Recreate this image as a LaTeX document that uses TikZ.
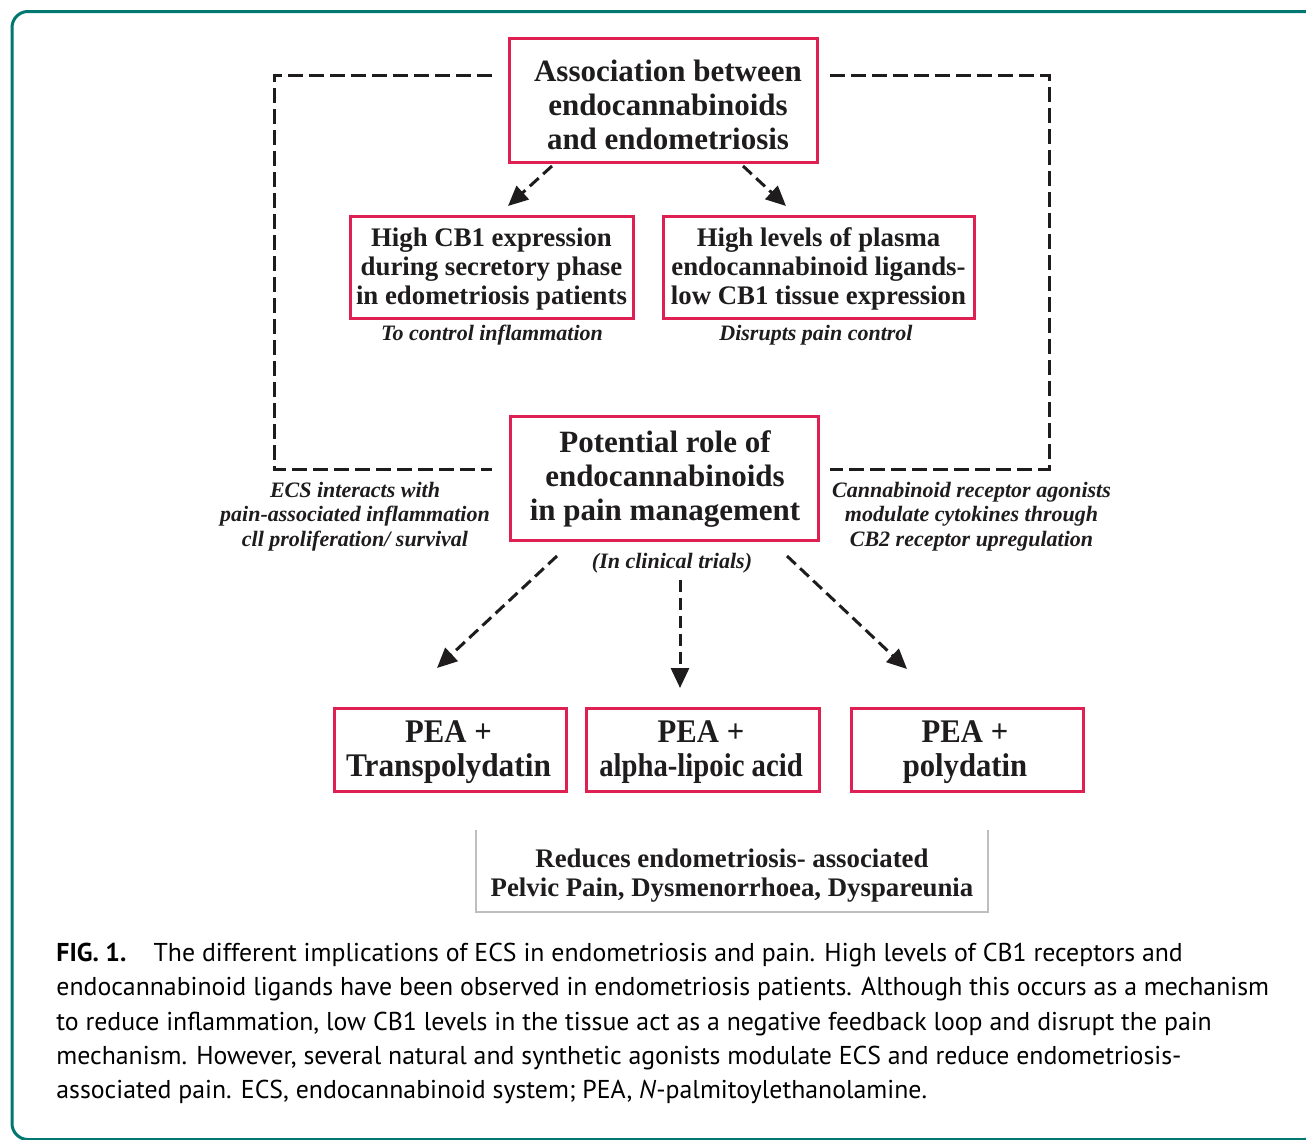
\documentclass[tikz,border=0pt]{standalone}
\usepackage{fontspec}
\usepackage{graphicx}
\setmainfont{Liberation Serif}
\newfontfamily\capfont{PT Sans}
\usetikzlibrary{arrows.meta}
\definecolor{boxred}{RGB}{222,32,82}
\definecolor{frameteal}{RGB}{0,119,112}
\definecolor{inkblack}{RGB}{30,28,29}
\definecolor{lightgray}{RGB}{190,190,190}
\tikzset{
  redbox/.style={draw=boxred, line width=1.5pt, inner sep=0pt},
  boxtext/.style={align=center, inner sep=0pt, text=inkblack},
  bigtxt/.style={font=\bfseries\fontsize{15.5pt}{17pt}\selectfont},
  pea/.style={font=\bfseries\fontsize{16.5pt}{17pt}\selectfont},
  midtxt/.style={font=\bfseries\fontsize{13.4pt}{14.5pt}\selectfont},
  itlabel/.style={font=\bfseries\itshape\fontsize{11pt}{12.3pt}\selectfont, align=center, text=inkblack, inner sep=0pt},
  bracket/.style={line width=1.5pt, dash pattern=on 7.5pt off 3pt, inkblack},
  dasharrow/.style={line width=1.5pt, dash pattern=on 6pt off 3pt, inkblack, -{Triangle[length=10pt,width=9pt]}},
  captxt/.style={font=\capfont\fontsize{12.9pt}{17pt}\selectfont, anchor=base west, inner sep=0pt, text=black},
}
\newcommand{\cond}[2]{\scalebox{#1}[1]{#2}}
\begin{document}
\begin{tikzpicture}[x=0.5pt,y=-0.5pt]
\useasboundingbox (0,0) rectangle (1306,1140);
% frame
\draw[frameteal, line width=1.5pt, rounded corners=8pt] (12,11.5) rectangle (1320,1139.5);

% boxes
\node[redbox, minimum width=154pt, minimum height=62pt] (top) at (663,100) {};
\node[boxtext, bigtxt] (toptext) at (668,105)
  {Association between\\endocannabinoids\\and endometriosis};
\node[redbox, minimum width=141.5pt, minimum height=51pt] (cbone) at (491.5,267) {};
\node[boxtext, midtxt] (cbonetext) at (491.5,269)
  {High CB1 expression\\during secretory phase\\in edometriosis patients};
\node[redbox, minimum width=155.5pt, minimum height=51pt] (plasma) at (818.5,267) {};
\node[boxtext, midtxt] (plasmatext) at (818.5,269)
  {High levels of plasma\\endocannabinoid ligands-\\low CB1 tissue expression};
\node[redbox, minimum width=154pt, minimum height=62pt] (pain) at (664,478) {};
\node[boxtext, bigtxt] (paintext) at (665,479)
  {Potential role of\\endocannabinoids\\in pain management};
\node[redbox, minimum width=116pt, minimum height=41.5pt] (peat) at (450,749.5) {};
\node[boxtext, pea] (peattext) at (448.5,752.5)
  {\cond{0.93}{PEA +}\\\cond{0.95}{Transpolydatin}};
\node[redbox, minimum width=116.5pt, minimum height=41.5pt] (peaa) at (702.5,749.5) {};
\node[boxtext, pea] (peaatext) at (701,752.5)
  {\cond{0.93}{PEA +}\\\cond{0.87}{alpha-lipoic acid}};
\node[redbox, minimum width=116pt, minimum height=41.5pt] (peap) at (967,749.5) {};
\node[boxtext, pea] (peaptext) at (965,752.5)
  {\cond{0.93}{PEA +}\\\cond{0.93}{polydatin}};

% grey result box
\coordinate (gnw) at (476,830);
\coordinate (gsw) at (476,912);
\coordinate (gse) at (988,912);
\coordinate (gne) at (988,830);
\draw[lightgray, line width=0.9pt] (gnw) -- (gsw) -- (gse) -- (gne);
\node[boxtext, midtxt] (gbox) at (732,876)
  {Reduces endometriosis- associated\\Pelvic Pain, Dysmenorrhoea, Dyspareunia};

% labels
\node[itlabel] (lctrl) at (492,335) {To control inflammation};
\node[itlabel] (ldisr) at (816,335) {Disrupts pain control};
\node[itlabel] (lclin) at (672,563) {(In clinical trials)};
\node[itlabel] (lecs) at (355,516.5) {ECS interacts with\\pain-associated inflammation\\cll proliferation/ survival};
\node[itlabel] (lcann) at (971.5,516.5) {Cannabinoid receptor agonists\\modulate cytokines through\\CB2 receptor upregulation};

% bracket coordinates
\coordinate (bl1) at (492,75);
\coordinate (bl2) at (274,75);
\coordinate (bl3) at (274,469);
\coordinate (bl4) at (492,469);
\coordinate (br1) at (830,75);
\coordinate (br2) at (1049,75);
\coordinate (br3) at (1049,469);
\coordinate (br4) at (830,469);
\draw[bracket] (bl1) -- (bl2) -- (bl3) -- (bl4);
\draw[bracket] (br1) -- (br2) -- (br3) -- (br4);

% arrows
\coordinate (a1s) at (552,166);
\coordinate (a1e) at (508,206);
\coordinate (a2s) at (743,166);
\coordinate (a2e) at (786,206);
\coordinate (a3s) at (557,556);
\coordinate (a3e) at (437,668);
\coordinate (a4s) at (680,580);
\coordinate (a4e) at (680,688);
\coordinate (a5s) at (787,556);
\coordinate (a5e) at (907,669);
\draw[dasharrow] (a1s) -- (a1e);
\draw[dasharrow] (a2s) -- (a2e);
\draw[dasharrow] (a3s) -- (a3e);
\draw[dasharrow] (a4s) -- (a4e);
\draw[dasharrow] (a5s) -- (a5e);

% caption
\node[captxt] (cap1) at (56,961) {\textbf{FIG. 1.}\hspace{9pt} The different implications of ECS in endometriosis and pain. High levels of CB1 receptors and};
\node[captxt] (cap2) at (56,995.5) {endocannabinoid ligands have been observed in endometriosis patients. Although this occurs as a mechanism};
\node[captxt] (cap3) at (56,1030) {to reduce inflammation, low CB1 levels in the tissue act as a negative feedback loop and disrupt the pain};
\node[captxt] (cap4) at (56,1064) {mechanism. However, several natural and synthetic agonists modulate ECS and reduce endometriosis-};
\node[captxt] (cap5) at (56,1098.5) {associated pain. ECS, endocannabinoid system; PEA, \textit{N}-palmitoylethanolamine.};
\end{tikzpicture}
\end{document}
